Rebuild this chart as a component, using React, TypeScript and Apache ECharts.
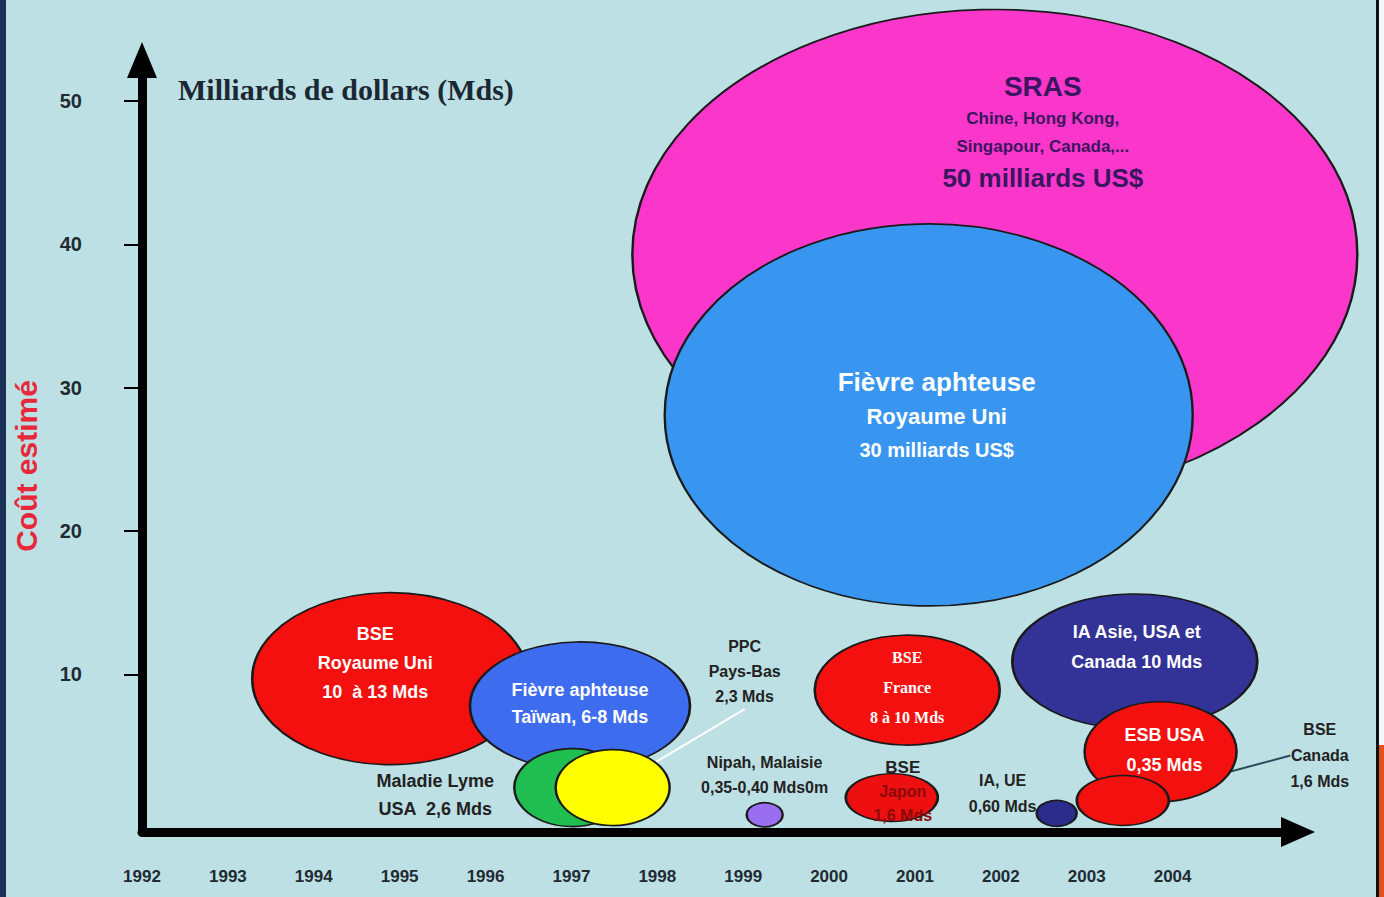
import React, { useEffect, useRef } from "react";
import * as echarts from "echarts";

// ---- data ----
const yearTicks = [1992, 1993, 1994, 1995, 1996, 1997, 1998, 1999, 2000, 2001, 2002, 2003, 2004];
const costTicks = [10, 20, 30, 40, 50];

const bubbleNames = [
  "SRAS",
  "Fièvre aphteuse RU",
  "BSE RU",
  "Fièvre aphteuse Taïwan",
  "Maladie Lyme",
  "PPC Pays-Bas",
  "Nipah",
  "BSE France",
  "BSE Japon",
  "IA UE",
  "IA Asie",
  "ESB USA",
  "BSE Canada",
];
const bubbleYears = [2001.93, 2001.16, 1994.89, 1997.1, 1997.01, 1997.48, 1999.25, 2000.91, 2000.73, 2002.65, 2003.56, 2003.86, 2003.42];
const bubbleValues = [39.3, 28.1, 9.7, 7.8, 2.1, 2.1, 0.2, 8.9, 1.4, 0.3, 10.9, 4.6, 1.2];
const bubbleLabels = [
  "{t|SRAS}\n{s|Chine, Hong Kong,}\n{s|Singapour, Canada,...}\n{b|50 milliards US$}",
  "{t|Fièvre aphteuse}\n{m|Royaume Uni}\n{s|30 milliards US$}",
  "BSE\nRoyaume Uni\n10  à 13 Mds",
  "Fièvre aphteuse\nTaïwan, 6-8 Mds",
  "Maladie Lyme\nUSA  2,6 Mds",
  "PPC\nPays-Bas\n2,3 Mds",
  "Nipah, Malaisie\n0,35-0,40 Mds0m",
  "BSE\nFrance\n8 à 10 Mds",
  "{k|BSE}\n{r|Japon}\n{r|1,6 Mds}",
  "IA, UE\n0,60 Mds",
  "IA Asie, USA et\nCanada 10 Mds",
  "ESB USA\n0,35 Mds",
  "BSE\nCanada\n1,6 Mds",
];

// ---- styles ----
const FONT = "'Liberation Sans', Arial, sans-serif";
const styleByName: Record<string, any> = {
  "SRAS": { size: [725, 490], color: "#fa36cb", label: { color: "#3b1660", offset: [48, -122], rich: {
    t: { fontSize: 28, fontWeight: "bold", color: "#3b1660", fontFamily: FONT, lineHeight: 36 },
    s: { fontSize: 17, fontWeight: "bold", color: "#3b1660", fontFamily: FONT, lineHeight: 28 },
    b: { fontSize: 26, fontWeight: "bold", color: "#3b1660", fontFamily: FONT, lineHeight: 36 } } } },
  "Fièvre aphteuse RU": { size: [528, 382], color: "#3996f0", label: { offset: [8, 0], rich: {
    t: { fontSize: 26, fontWeight: "bold", color: "#ffffff", fontFamily: FONT, lineHeight: 36 },
    m: { fontSize: 22, fontWeight: "bold", color: "#ffffff", fontFamily: FONT, lineHeight: 34 },
    s: { fontSize: 20, fontWeight: "bold", color: "#ffffff", fontFamily: FONT, lineHeight: 32 } } } },
  "BSE RU": { size: [276, 172], color: "#f51010", label: { color: "#fff", fontSize: 18, lineHeight: 29, offset: [-15, -16] } },
  "Fièvre aphteuse Taïwan": { size: [220, 128], color: "#3d6cef", label: { color: "#fff", fontSize: 18, lineHeight: 27, offset: [0, -2] } },
  "Maladie Lyme": { size: [116, 78], color: "#20bd50", label: { color: "#222", fontSize: 18, lineHeight: 28, offset: [-137, 7] } },
  "PPC Pays-Bas": { size: [114, 76], color: "#ffff00", label: { color: "#222", fontSize: 16, lineHeight: 25 }, layout: { dx: 132, dy: -116 }, line: "#ffffff" },
  "Nipah": { size: [36, 24], color: "#9a6ef0", label: { color: "#222", fontSize: 16, lineHeight: 25, position: "top", distance: 2 } },
  "BSE France": { size: [185, 110], color: "#f51010", label: { color: "#fff", fontSize: 16, lineHeight: 30, fontFamily: "'Liberation Serif', serif", offset: [0, -3] } },
  "BSE Japon": { size: [92, 48], color: "#ee1010", label: { offset: [11, -6], rich: {
    k: { fontSize: 17, fontWeight: "bold", color: "#222", fontFamily: FONT, lineHeight: 24 },
    r: { fontSize: 16, fontWeight: "bold", color: "#8a0a0a", fontFamily: FONT, lineHeight: 24 } } } },
  "IA UE": { size: [40, 26], color: "#2b2b8c", label: { color: "#222", fontSize: 16, lineHeight: 26, offset: [-54, -20] } },
  "IA Asie": { size: [245, 135], color: "#333397", label: { color: "#fff", fontSize: 18, lineHeight: 30, offset: [2, -14] } },
  "ESB USA": { size: [152, 100], color: "#f51010", label: { color: "#fff", fontSize: 18, lineHeight: 30, offset: [4, -2] } },
  "BSE Canada": { size: [92, 50], color: "#f51010", label: { color: "#222", fontSize: 16, lineHeight: 26 }, layout: { dx: 197, dy: -45 }, line: "#2a4a5a" },
};

export default function App() {
  const ref = useRef<HTMLDivElement>(null);
  useEffect(() => {
    if (!ref.current) return;
    const chart = echarts.init(ref.current, undefined, { renderer: "svg" });

    const series = bubbleNames.map((name, i) => {
      const st = styleByName[name];
      const lab = st.label || {};
      return {
        type: "scatter",
        name,
        symbol: "circle",
        symbolSize: st.size,
        data: [[bubbleYears[i], bubbleValues[i]]],
        itemStyle: { color: st.color, borderColor: "#1a1a1a", borderWidth: 2, opacity: 1 },
        label: {
          show: true,
          position: lab.position || "inside",
          distance: lab.distance,
          offset: lab.offset,
          formatter: bubbleLabels[i],
          color: lab.color,
          fontSize: lab.fontSize,
          lineHeight: lab.lineHeight,
          fontWeight: "bold",
          fontFamily: lab.fontFamily || FONT,
          align: "center",
          rich: lab.rich,
        },
        labelLayout: st.layout ? { dx: st.layout.dx, dy: st.layout.dy } : undefined,
        labelLine: st.line ? { show: true, lineStyle: { color: st.line, width: 2 } } : undefined,
        emphasis: { disabled: true },
        silent: true,
        z: 2,
      };
    });

    chart.setOption({
      animation: false,
      backgroundColor: "#bde0e4",
      grid: { left: 142, right: 86, top: 60, bottom: 65, containLabel: false },
      xAxis: {
        type: "value",
        min: 1992,
        max: 2005.46,
        splitLine: { show: false },
        axisLine: { show: true, onZero: false, symbol: ["none", "triangle"], symbolSize: [30, 34], symbolOffset: [0, 0], lineStyle: { color: "#000", width: 9 } },
        axisTick: { show: false },
        axisLabel: {
          customValues: yearTicks,
          formatter: (v: number) => String(v),
          margin: 36,
          fontSize: 17,
          fontWeight: "bold",
          color: "#1f2a33",
          fontFamily: FONT,
        },
      },
      yAxis: {
        type: "value",
        min: -1,
        max: 52.87,
        splitLine: { show: false },
        axisLine: { show: true, onZero: false, symbol: ["none", "triangle"], symbolSize: [30, 36], symbolOffset: [0, 0], lineStyle: { color: "#000", width: 9 } },
        axisTick: { show: true, customValues: costTicks, length: 18, inside: false, lineStyle: { color: "#000", width: 2 } },
        axisLabel: {
          customValues: costTicks,
          margin: 60,
          fontSize: 20,
          fontWeight: "bold",
          color: "#1f2a33",
          fontFamily: FONT,
        },
      },
      graphic: [
        { type: "rect", left: 0, top: 0, shape: { width: 6, height: 897 }, style: { fill: "#1c3358" }, z: 10 },
        { type: "rect", left: 1376, top: 0, shape: { width: 3, height: 897 }, style: { fill: "#111" }, z: 10 },
        { type: "rect", left: 1379, top: 0, shape: { width: 5, height: 897 }, style: { fill: "#f4f8f8" }, z: 10 },
        { type: "rect", left: 1379, top: 745, shape: { width: 5, height: 152 }, style: { fill: "#e2501c" }, z: 11 },
        {
          type: "text", left: 178, top: 74, z: 10,
          style: { text: "Milliards de dollars (Mds)", font: "bold 30px 'Liberation Serif', serif", fill: "#1b2833" },
        },
        {
          type: "text", x: 26, y: 466, rotation: Math.PI / 2, z: 10,
          style: { text: "Coût estimé", font: "bold 30px " + FONT, fill: "#e8283a", align: "center", verticalAlign: "middle" },
        },
      ],
      series,
    });
    return () => chart.dispose();
  }, []);
  return <div ref={ref} style={{ position: "fixed", left: 0, top: 0, width: 1384, height: 897 }} />;
}
